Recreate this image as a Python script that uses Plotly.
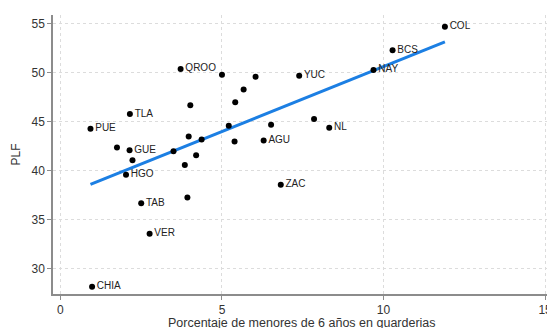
import numpy as np
import plotly.graph_objects as go

states = ["PUE", "TLA", "QROO", "", "", "", "", "", "", "", "AGU", "", "", "", "", "GUE",
          "", "", "", "", "HGO", "TAB", "", "VER", "CHIA", "ZAC", "COL", "BCS", "YUC", "NAY", "", "NL"]
pct = [0.93, 2.15, 3.72, 5.00, 6.04, 5.67, 5.41, 4.02, 5.21, 6.52, 6.29, 3.97, 4.37, 5.39, 1.75, 2.14,
       3.50, 4.20, 3.85, 2.23, 2.03, 2.50, 3.93, 2.76, 0.98, 6.82, 11.90, 10.28, 7.39, 9.69, 7.85, 8.32]
plf = [44.3, 45.8, 50.4, 49.8, 49.6, 48.3, 47.0, 46.7, 44.6, 44.7, 43.1, 43.5, 43.2, 43.0, 42.4, 42.1,
       42.0, 41.6, 40.6, 41.1, 39.6, 36.7, 37.3, 33.6, 28.2, 38.6, 54.7, 52.3, 49.7, 50.3, 45.3, 44.4]

x_ticks = [0, 5, 10, 15]
y_ticks = [30, 35, 40, 45, 50, 55]
x_title = "Porcentaje de menores de 6 años en guarderias"
y_title = "PLF"

x = np.array(pct)
y = np.array(plf)
b, a = np.polyfit(x, y, 1)
fx = np.array([x.min(), x.max()])
fy = a + b * fx

fig = go.Figure()
fig.add_trace(go.Scatter(
    x=fx, y=fy, mode="lines",
    line=dict(color="#1c7fe3", width=3), hoverinfo="skip", showlegend=False))
fig.add_trace(go.Scatter(
    x=pct, y=plf, mode="markers+text", text=states, textposition="middle right",
    textfont=dict(size=10, color="#222222", family="Liberation Sans, Arial, sans-serif"),
    marker=dict(color="black", size=6), showlegend=False, cliponaxis=False))

axis_common = dict(
    showline=True, linecolor="#8c8c8c", linewidth=1.5,
    ticks="outside", ticklen=4, tickcolor="#8c8c8c", tickwidth=1,
    showgrid=True, gridcolor="#dcdcdc", griddash="dot", gridwidth=1,
    zeroline=False, tickfont=dict(size=12, color="#333333"), automargin=False,
    ticklabeloverflow="allow",
)

fig.update_layout(
    width=547, height=328,
    margin=dict(l=53, r=0, t=15, b=34, autoexpand=False),
    paper_bgcolor="white", plot_bgcolor="white",
    font=dict(family="Liberation Sans, Arial, sans-serif", color="#333333"),
    xaxis=dict(range=[-0.23, 15.06], tickvals=x_ticks, **axis_common),
    yaxis=dict(range=[27.45, 55.9], tickvals=y_ticks,
               title=dict(text=y_title, font=dict(size=12, color="#333333"), standoff=8),
               **axis_common),
    annotations=[dict(text=x_title, xref="paper", yref="paper", x=0.505, y=-0.072,
                      xanchor="center", yanchor="top", showarrow=False,
                      font=dict(size=12.5, color="#333333"))],
)

fig.write_html("out.html", config={"displayModeBar": False},
               post_script="document.body.style.margin='0';document.body.style.overflow='hidden';")
